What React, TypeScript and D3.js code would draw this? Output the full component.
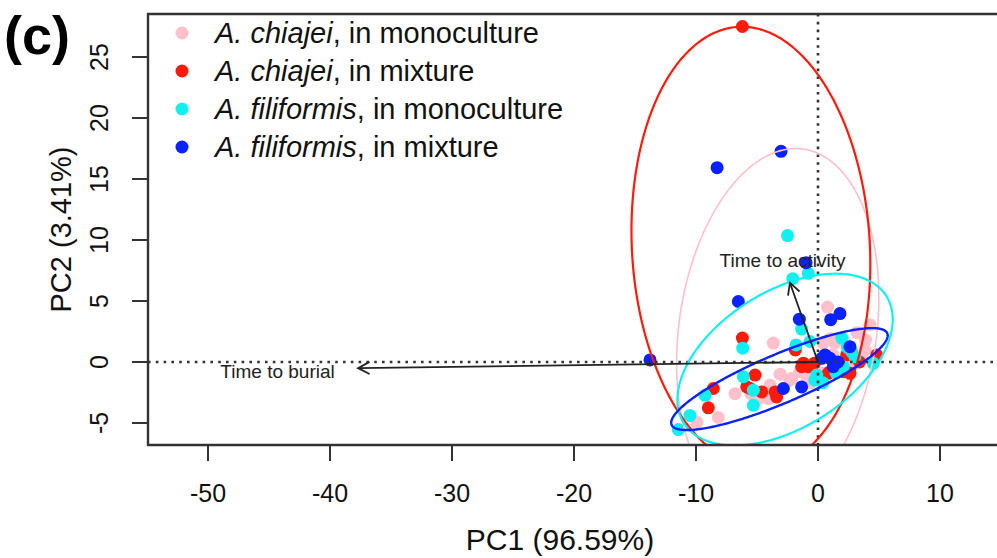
import React from 'react';
import * as d3 from 'd3';

// ---------- data ----------
const xTicks = [-50, -40, -30, -20, -10, 0, 10];
const yTicks = [-5, 0, 5, 10, 15, 20, 25];

const chiajeiMono: [number, number][] = [
  [0.78, 4.5], [4.26, 3.06], [3.9, 1.8], [-3.66, 1.55], [0.43, 1.55], [1.39, 1.55], [2.21, 1.68],
  [3.85, 0.99], [2.89, -0.11], [1.8, -0.39], [0.33, -0.9], [-1.5, -0.8], [2.6, -0.4], [-2.16, -1.35],
  [-2.3, -1.49], [-3.1, -1.0], [-3.93, -1.9], [-4.48, -2.59], [-4.89, -3.0], [-4.07, -3.0],
  [-8.17, -4.55], [-9.94, -4.93], [-0.6, -1.7], [1.2, 0.6], [3.2, 2.4], [1.0, 1.9], [-0.9, -1.2],
  [3.6, 0.3], [-6.8, -2.6], [-5.5, -2.6],
];
const chiajeiMix: [number, number][] = [
  [-6.2, 27.5], [-6.2, 1.96], [-1.86, 0.99], [4.81, 0.58], [-1.2, -0.1], [-0.8, -0.39], [0.98, -0.8],
  [2.07, -0.8], [2.62, -0.93], [0.84, -0.93], [2.35, 0.58], [-5.16, -1.07], [-5.84, -2.04],
  [-5.57, -2.17], [-4.61, -2.45], [-3.52, -2.45], [-3.39, -2.87], [-8.58, -2.17], [-8.99, -3.76],
  [-1.34, -0.39], [3.4, 0.0], [-0.3, -0.1],
];
const filiformisMono: [number, number][] = [
  [-2.5, 10.36], [-2.07, 6.83], [-0.8, 7.27], [-1.34, 2.7], [-6.17, 1.13], [-1.8, 1.4], [-0.66, 1.68],
  [1.94, 1.96], [2.76, 0.85], [3.03, 0.44], [4.53, -0.11], [-0.1, -1.07], [-0.25, -1.49], [2.07, -0.39],
  [1.48, -0.9], [-6.12, -1.21], [-5.3, -2.31], [-5.3, -3.55], [-9.26, -2.73], [-10.5, -4.38],
  [-11.45, -5.54], [2.4, 1.2], [0.4, -1.7],
];
const filiformisMix: [number, number][] = [
  [-3.03, 17.27], [-8.27, 15.93], [-0.98, 8.14], [-6.53, 4.96], [-1.53, 3.51], [1.04, 3.47], [1.8, 3.97],
  [-13.77, 0.17], [2.62, 1.26], [0.3, 0.3], [0.71, 0.44], [1.25, -0.39], [0.57, 0.58], [0.98, 0.3],
  [-1.34, -2.04], [-2.84, -2.17], [1.64, 0.0],
];

// ellipse parameters: [centerX, centerY, semiMajor, semiMinor, angleDeg]
const ellipseChiajeiMono = [-3.3, 2.6, 15, 8.1, 82];
const ellipseChiajeiMix = [-5.5, 9.4, 18.1, 9.75, 93.3];
const ellipseFiliformisMono = [-2.7, 0.2, 9.8, 5.6, 32];
const ellipseFiliformisMix = [-3.16, -1.4, 9.6, 2.0, 23];

const speciesNames = ['A. chiajei', 'A. chiajei', 'A. filiformis', 'A. filiformis'];
const treatmentNames = [', in monoculture', ', in mixture', ', in monoculture', ', in mixture'];
const groupColors = ['#FFC0CB', '#FF1A0A', '#11F0F0', '#0A22FF'];

// loadings arrows: [x, y]
const arrowNames = ['Time to burial', 'Time to activity'];
const arrowEnds: [number, number][] = [[-37.7, -0.5], [-2.3, 6.5]];
const arrowLabelPos: [number, number][] = [[-44.3, -0.8], [-2.9, 8.3]];

const xTitle = 'PC1 (96.59%)';
const yTitle = 'PC2 (3.41%)';
const panelLabel = '(c)';

// ---------- layout ----------
const W = 997;
const H = 558;
const box = { left: 148, top: 14, bottom: 445, right: 1010 };
const FONT = '"Liberation Sans", Arial, Helvetica, sans-serif';

const x = d3.scaleLinear().domain([-50, 10]).range([208, 940]);
const y = d3.scaleLinear().domain([-5, 25]).range([423, 57]);

function ellipsePath(p: number[]) {
  const [cx, cy, a, b, deg] = p;
  const th = (deg * Math.PI) / 180;
  const pts: [number, number][] = d3.range(0, 360, 1).map((t) => {
    const r = (t * Math.PI) / 180;
    const dx = a * Math.cos(r);
    const dy = b * Math.sin(r);
    return [cx + dx * Math.cos(th) - dy * Math.sin(th), cy + dx * Math.sin(th) + dy * Math.cos(th)];
  });
  return d3
    .line<[number, number]>()
    .x((d) => x(d[0]))
    .y((d) => y(d[1]))
    .curve(d3.curveLinearClosed)(pts) as string;
}

function arrowHead(x0: number, y0: number, x1: number, y1: number) {
  const ang = Math.atan2(y1 - y0, x1 - x0);
  const len = 13;
  const spread = (28 * Math.PI) / 180;
  const a1 = ang + Math.PI - spread;
  const a2 = ang + Math.PI + spread;
  return `M${x1 + len * Math.cos(a1)},${y1 + len * Math.sin(a1)}L${x1},${y1}L${x1 + len * Math.cos(a2)},${y1 + len * Math.sin(a2)}`;
}

export default function App() {
  const groups = [chiajeiMono, chiajeiMix, filiformisMono, filiformisMix];
  const ells = [ellipseChiajeiMono, ellipseChiajeiMix, ellipseFiliformisMono, ellipseFiliformisMix];
  const ellWidths = [1.6, 2.2, 2.2, 2.4];
  const legendY = [33, 71, 109, 147];

  return (
    <svg
      width={W}
      height={H}
      style={{ position: 'absolute', left: 0, top: 0, background: '#fff' }}
      fontFamily={FONT}
    >
      <defs>
        <clipPath id="plotclip">
          <rect x={box.left} y={box.top} width={box.right - box.left} height={box.bottom - box.top} />
        </clipPath>
      </defs>

      {/* points */}
      <g clipPath="url(#plotclip)">
        {groups.map((g, gi) =>
          g.map((d, i) => (
            <circle key={`${gi}-${i}`} cx={x(d[0])} cy={y(d[1])} r={6.5} fill={groupColors[gi]} />
          ))
        )}
      </g>

      {/* reference lines */}
      <g clipPath="url(#plotclip)" stroke="#333" strokeWidth={2.6} strokeDasharray="2.6 5.2" fill="none">
        <line x1={box.left} x2={box.right} y1={y(0)} y2={y(0)} />
        <line x1={x(0)} x2={x(0)} y1={box.top} y2={box.bottom} />
      </g>

      {/* ellipses */}
      <g clipPath="url(#plotclip)" fill="none">
        {ells.map((p, i) => (
          <path key={i} d={ellipsePath(p)} stroke={groupColors[i]} strokeWidth={ellWidths[i]} />
        ))}
      </g>

      {/* loading arrows */}
      <g stroke="#222" strokeWidth={1.8} fill="none">
        {arrowEnds.map((e, i) => {
          const x0 = x(0), y0 = y(0), x1 = x(e[0]), y1 = y(e[1]);
          return (
            <g key={i}>
              <line x1={x0} y1={y0} x2={x1} y2={y1} />
              <path d={arrowHead(x0, y0, x1, y1)} />
            </g>
          );
        })}
      </g>
      {arrowNames.map((n, i) => (
        <text
          key={n}
          x={x(arrowLabelPos[i][0])}
          y={y(arrowLabelPos[i][1])}
          textAnchor="middle"
          dominantBaseline="central"
          fontSize={19}
          fill="#222"
        >
          {n}
        </text>
      ))}

      {/* box */}
      <path
        d={`M${box.right},${box.top}H${box.left}V${box.bottom}H${box.right}`}
        fill="none"
        stroke="#333"
        strokeWidth={2.4}
      />

      {/* x axis */}
      <g>
        {xTicks.map((t) => (
          <g key={t}>
            <line x1={x(t)} x2={x(t)} y1={box.bottom} y2={box.bottom + 16} stroke="#333" strokeWidth={2} />
            <text x={x(t)} y={502} textAnchor="middle" fontSize={25} fill="#111">
              {t}
            </text>
          </g>
        ))}
        <text x={560} y={550} textAnchor="middle" fontSize={30} fill="#111">
          {xTitle}
        </text>
      </g>

      {/* y axis */}
      <g>
        {yTicks.map((t) => (
          <g key={t}>
            <line x1={box.left - 16} x2={box.left} y1={y(t)} y2={y(t)} stroke="#333" strokeWidth={2} />
            <text
              transform={`translate(108,${y(t)}) rotate(-90)`}
              textAnchor="middle"
              fontSize={25}
              fill="#111"
            >
              {t}
            </text>
          </g>
        ))}
        <text transform={`translate(71,${(box.top + box.bottom) / 2}) rotate(-90)`} textAnchor="middle" fontSize={29} fill="#111">
          {yTitle}
        </text>
      </g>

      {/* panel label */}
      <text x={4} y={54} fontSize={54} fontWeight="bold" fill="#000">
        {panelLabel}
      </text>

      {/* legend */}
      <g>
        {speciesNames.map((s, i) => (
          <g key={i}>
            <circle cx={182} cy={legendY[i]} r={6.5} fill={groupColors[i]} />
            <text x={215} y={legendY[i]} dominantBaseline="central" fontSize={29} fill="#111">
              <tspan fontStyle="italic">{s}</tspan>
              <tspan>{treatmentNames[i]}</tspan>
            </text>
          </g>
        ))}
      </g>
    </svg>
  );
}
